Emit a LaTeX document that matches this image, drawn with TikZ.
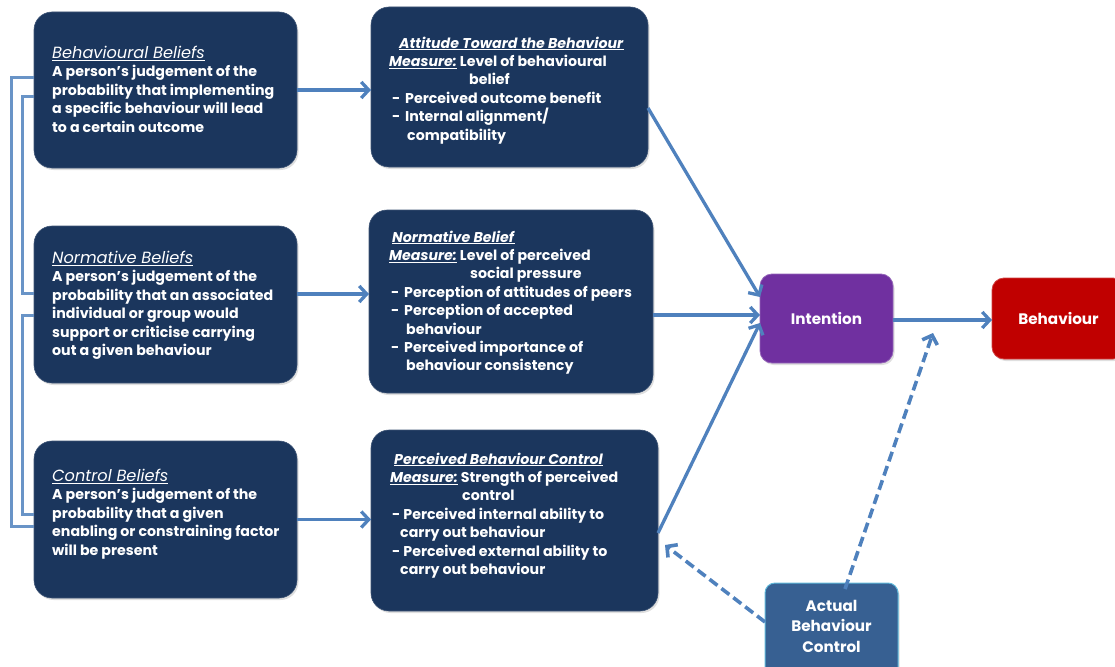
\documentclass[tikz,border=0pt]{standalone}
\usepackage{fontspec}
\setmainfont{Poppins}
\usetikzlibrary{arrows.meta,shadows,calc}

\definecolor{navy}{HTML}{1B365D}
\definecolor{linkblue}{HTML}{4F81BD}
\definecolor{intpurple}{HTML}{7030A0}
\definecolor{behred}{HTML}{C00000}
\definecolor{abcblue}{HTML}{376092}

\tikzset{
  box/.style={inner sep=0pt, outer sep=0pt,
    drop shadow={shadow xshift=1.5pt, shadow yshift=-2pt, opacity=0.25}},
  darkbox/.style={box, rounded corners=18pt, fill=navy, draw=navy!85!white, line width=0.6pt},
  bodytext/.style={anchor=north west, inner sep=0pt, align=left, text=white,
    font=\fontsize{14.2}{18.4}\selectfont\bfseries},
  boxlabel/.style={text=white, align=center, inner sep=0pt,
    font=\fontsize{15.2}{20.5}\selectfont\bfseries},
  link/.style={draw=linkblue, line width=3.3pt,
    -{Straight Barb[length=7.5pt,width=16pt]}},
  dashlink/.style={link, line width=3.6pt, dash pattern=on 10pt off 5pt},
  bracket/.style={draw=linkblue!85!white, line width=3pt},
}

\newcommand{\ttl}[1]{{\fontsize{16.2}{18.4}\selectfont\mdseries\itshape\underline{#1}}}
\newcommand{\hd}[1]{\underline{\textit{#1}}}
\newcommand{\itm}[1]{\hspace*{#1}\makebox[13pt][l]{-}}

\begin{document}
\begin{tikzpicture}[x=1pt,y=-1pt]
\useasboundingbox (0,0) rectangle (1115,666);

% belief boxes (left column)
\node[darkbox, minimum width=263pt, minimum height=156pt] (bb) at (165.5,90) {};
\node[darkbox, minimum width=263pt, minimum height=157pt] (nb) at (165.5,304.5) {};
\node[darkbox, minimum width=263pt, minimum height=157pt] (cb) at (165.5,519.5) {};

% measure boxes (middle column)
\node[darkbox, minimum width=277pt, minimum height=160pt] (att) at (509.5,87) {};
\node[darkbox, minimum width=284pt, minimum height=183pt] (nbel) at (511,301.5) {};
\node[darkbox, minimum width=287pt, minimum height=181pt] (pbc) at (514.5,520.5) {};

% outcome boxes
\node[box, rounded corners=12pt, fill=intpurple, draw=intpurple!75!white, line width=0.8pt,
      minimum width=133pt, minimum height=89pt] (int) at (826.5,318.5) {};
\node[box, rounded corners=12pt, fill=behred, draw=behred!75!white, line width=0.8pt,
      minimum width=133pt, minimum height=81pt] (beh) at (1058.5,318.5) {};
\node[box, rounded corners=10pt, fill=abcblue, draw=linkblue!70!cyan!80!white, line width=1pt,
      minimum width=133pt, minimum height=100pt] (abc) at (831.5,633) {};

% texts of the left column
\node[bodytext] (bbtxt) at (52,46) {\ttl{Behavioural Beliefs}\\
A person’s judgement of the\\
probability that implementing\\
a specific behaviour will lead\\
to a certain outcome};

\node[bodytext] (nbtxt) at (52,251) {\ttl{Normative Beliefs}\\
A person’s judgement of the\\
probability that an associated\\
individual or group would\\
support or criticise carrying\\
out a given behaviour};

\node[bodytext] (cbtxt) at (52,469) {\ttl{Control Beliefs}\\
A person’s judgement of the\\
probability that a given\\
enabling or constraining factor\\
will be present};

% texts of the middle column
\node[bodytext] (atttxt) at (389,36.5) {\hspace*{10pt}\hd{Attitude Toward the Behaviour}\\
\hd{Measure:} Level of behavioural\\
\hspace*{80pt}belief\\
\itm{3pt}Perceived outcome benefit\\
\itm{3pt}Internal alignment/\\
\hspace*{18pt}compatibility};

\node[bodytext] (nbeltxt) at (389,230.5) {\hspace*{3pt}\hd{Normative Belief}\\
\hd{Measure:} Level of perceived\\
\hspace*{81pt}social pressure\\
\itm{2pt}Perception of attitudes of peers\\
\itm{2pt}Perception of accepted\\
\hspace*{17pt}behaviour\\
\itm{2pt}Perceived importance of\\
\hspace*{17pt}behaviour consistency};

\node[bodytext] (pbctxt) at (390,452.5) {\hspace*{4pt}\hd{Perceived Behaviour Control}\\
\hd{Measure:} Strength of perceived\\
\hspace*{72pt}control\\
\hspace*{2pt}- Perceived internal ability to\\
\hspace*{10pt}carry out behaviour\\
\hspace*{2pt}- Perceived external ability to\\
\hspace*{10pt}carry out behaviour};

% texts of the outcome boxes
\node[boxlabel] (inttxt) at (int.center) {Intention};
\node[boxlabel] (behtxt) at (beh.center) {Behaviour};
\node[boxlabel] (abctxt) at ([yshift=7pt]abc.center) {Actual\\Behaviour\\Control};

% brackets joining the belief boxes
\draw[bracket] ([yshift=12pt]bb.west) -- ++(-23,0) |- ([yshift=-6.5pt]cb.west);
\draw[bracket] ([yshift=-7pt]bb.west) -- ++(-12,0) |- ([yshift=11.5pt]nb.west);
\draw[bracket] ([yshift=-10.5pt]nb.west) -- ++(-12,0) |- ([yshift=5.5pt]cb.west);

% beliefs to measures
\draw[link] (bb.east) -- (bb.east -| att.west);
\draw[link] ([yshift=10.5pt]nb.east) -- ([yshift=10.5pt]nb.east -| nbel.west);
\draw[link] (cb.east) -- (cb.east -| pbc.west);

% measures to intention
\draw[link] ([yshift=-21pt]att.east) -- ([yshift=21.5pt]int.west);
\draw[link] ([yshift=-13.5pt]nbel.east) -- ([yshift=3.5pt]int.west);
\draw[link] ([yshift=-12.5pt]pbc.east) -- ([yshift=-4.5pt]int.west);

% intention to behaviour
\draw[link] ([yshift=-1.5pt]int.east) -- ([yshift=-1.5pt]int.east -| beh.west);

% actual behaviour control
\coordinate (onlink) at (933,333);
\draw[dashlink] ([yshift=11pt]abc.west) -- ([xshift=7pt,yshift=-24.5pt]pbc.east);
\draw[dashlink] ([xshift=13.5pt,yshift=-6pt]abc.north) -- (onlink);
\end{tikzpicture}
\end{document}
